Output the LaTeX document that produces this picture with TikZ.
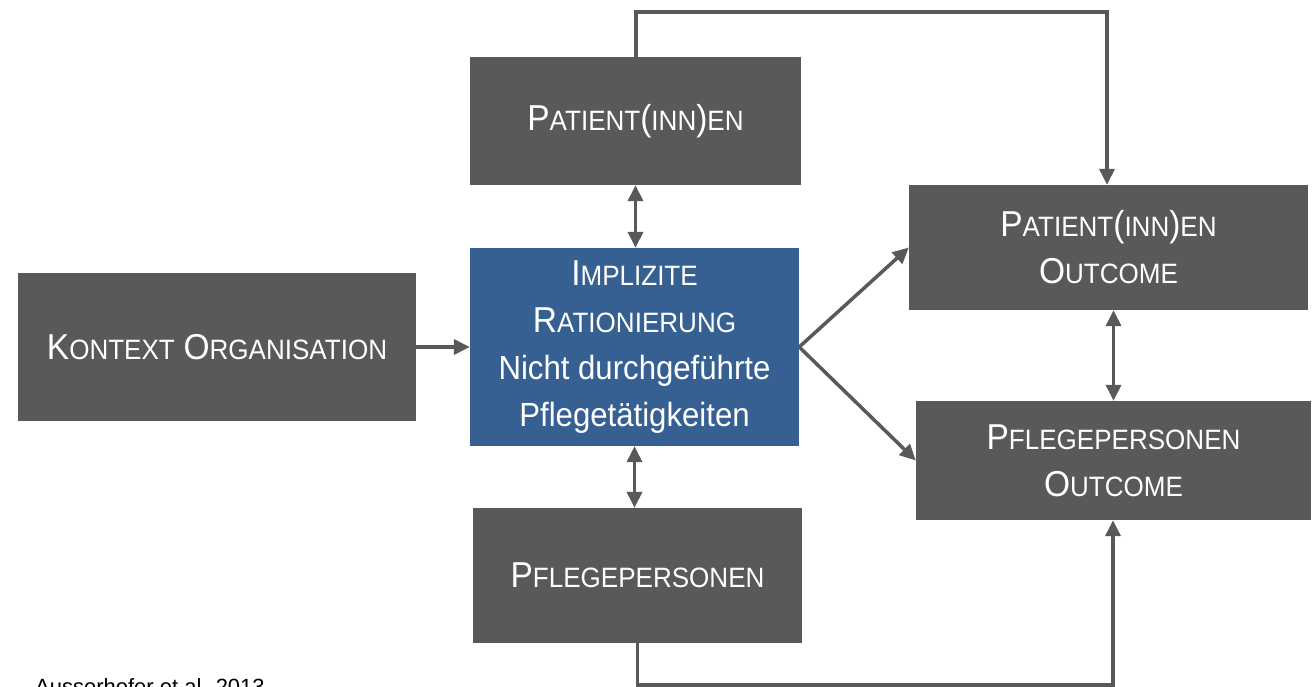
\documentclass[tikz,border=0pt]{standalone}
\usepackage{fontspec}
\setmainfont[FakeStretch=0.93]{Liberation Sans}
\newfontfamily\plainfont{Liberation Sans}
\usetikzlibrary{arrows.meta,calc}
\definecolor{boxgray}{HTML}{595959}
\definecolor{boxblue}{HTML}{376092}
\definecolor{linegray}{HTML}{595959}
\newcommand\BigC[1]{{\fontsize{36}{47}\selectfont #1}}
\newcommand\SmC[1]{{\fontsize{28}{47}\selectfont #1}}
\begin{document}
\begin{tikzpicture}[x=1pt,y=-1pt,
  box/.style={fill=boxgray,text=white,inner sep=0pt,align=center,
    font=\fontsize{33.5}{47}\selectfont},
  bluebox/.style={box,fill=boxblue},
  conn/.style={draw=linegray,line width=3.5pt,
    arrows={-Triangle[length=16pt,width=15pt]}},
  dconn/.style={draw=linegray,line width=3.5pt,
    arrows={Triangle[length=16pt,width=15pt]-Triangle[length=16pt,width=15pt]}}]
\useasboundingbox[fill=white] (0,0) rectangle (1313,686);

\node[box,minimum width=398pt,minimum height=148pt] (kontext) at (217,347)
  {\BigC{K}\SmC{ONTEXT} \BigC{O}\SmC{RGANISATION}};
\node[bluebox,minimum width=329pt,minimum height=198pt] (impl) at (634.5,347)
  {\BigC{I}\SmC{MPLIZITE}\\\BigC{R}\SmC{ATIONIERUNG}\\Nicht durchgeführte\\Pflegetätigkeiten};
\node[box,minimum width=331pt,minimum height=128pt] (pattop) at (635.5,121)
  {\BigC{P}\SmC{ATIENT}\BigC{(}\SmC{INN}\BigC{)}\SmC{EN}};
\node[box,minimum width=329pt,minimum height=135pt] (pflbot) at (637.5,575.5)
  {\BigC{P}\SmC{FLEGEPERSONEN}};
\node[box,minimum width=399pt,minimum height=125pt] (patout) at (1108.5,247.5)
  {\BigC{P}\SmC{ATIENT}\BigC{(}\SmC{INN}\BigC{)}\SmC{EN}\\\BigC{O}\SmC{UTCOME}};
\node[box,minimum width=395pt,minimum height=119pt] (pflout) at (1113.5,460.5)
  {\BigC{P}\SmC{FLEGEPERSONEN}\\\BigC{O}\SmC{UTCOME}};

\node[anchor=base west,inner sep=0pt,font=\plainfont\fontsize{22}{26}\selectfont] (src) at (35,694)
  {Ausserhofer et al. 2013};

\coordinate (topL) at (636,12);
\coordinate (topR) at (1107,12);
\coordinate (botL) at (637.5,685);
\coordinate (botR) at (1113,685);

\draw[conn] (kontext.east) -- (impl.west);
\draw[dconn] (pattop.south) -- (pattop.south |- impl.north);
\draw[dconn] (impl.south) -- (impl.south |- pflbot.north);
\draw[conn] (impl.east) -- (patout.west);
\draw[conn] (impl.east) -- (pflout.west);
\draw[dconn] (pflout.north |- patout.south) -- (pflout.north);
\draw[conn,line join=miter] (pattop.north -| topL) -- (topL) -- (topR) -- (topR |- patout.north);
\draw[conn,line join=miter] (pflbot.south) -- (botL) -- (botR) -- (botR |- pflout.south);
\end{tikzpicture}
\end{document}
